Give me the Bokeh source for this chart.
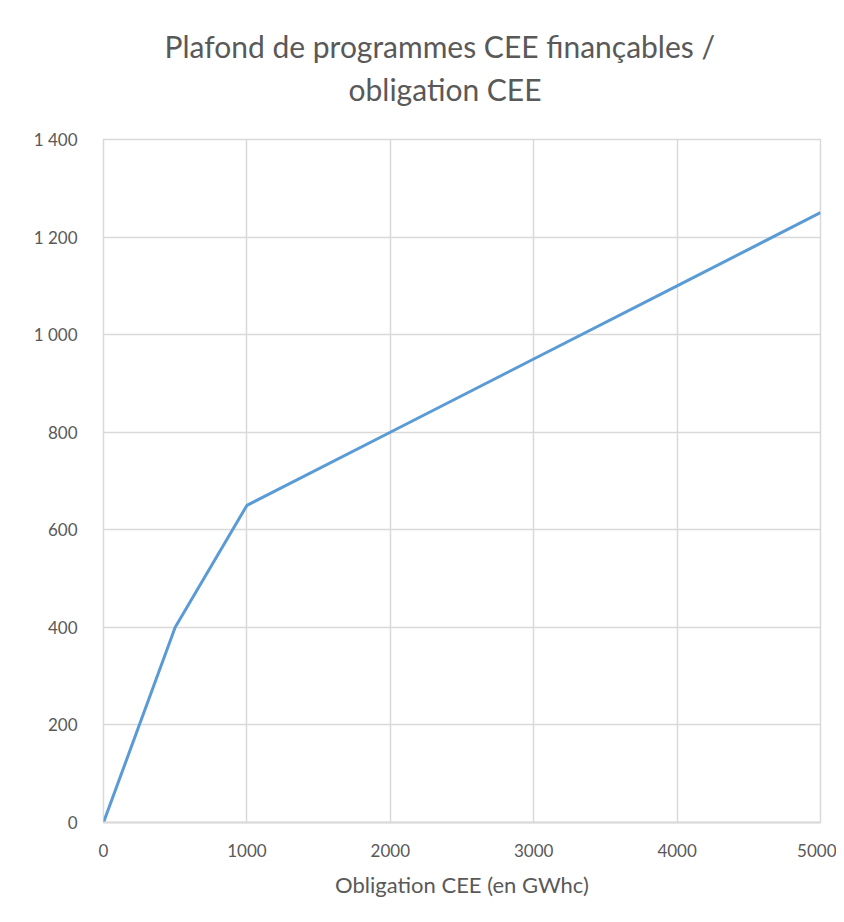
from bokeh.plotting import figure
from bokeh.models import Range1d, FixedTicker, Title
from bokeh.embed import file_html
from bokeh.resources import INLINE

# Data
obligation = [0, 500, 1000, 2000, 3000, 4000, 5000]
plafond = [0, 400, 650, 800, 950, 1100, 1250]
x_ticks = [0, 1000, 2000, 3000, 4000, 5000]
y_ticks = [0, 200, 400, 600, 800, 1000, 1200, 1400]
y_tick_labels = ["0", "200", "400", "600", "800", "1 000", "1 200", "1 400"]
title_lines = ["Plafond de programmes CEE finançables /", "obligation CEE"]

FONT = "Lato"
GREY = "#595959"
GRID = "#d9d9d9"

p = figure(width=836, height=914, output_backend="svg", toolbar_location=None,
           x_range=Range1d(0, 5000), y_range=Range1d(0, 1400),
           min_border_left=103, min_border_right=16, min_border_top=139, min_border_bottom=92)

# first title line (outermost)
p.title.text = title_lines[0]
p.title.align = "left"
p.title.offset = 61
p.title.standoff = 4
p.title.text_font = FONT
p.title.text_font_size = "30px"
p.title.text_font_style = "normal"
p.title.text_color = GREY

# spacer between the plot frame and the second title line
p.add_layout(Title(text=" ", text_font_size="10px", standoff=17), "above")
# second title line
p.add_layout(Title(text=title_lines[1], align="left", offset=245, standoff=6,
                   text_font=FONT, text_font_size="30px", text_font_style="normal",
                   text_color=GREY), "above")

p.line(obligation, plafond, line_color="#5B9BD5", line_width=3)

p.outline_line_color = GRID
p.outline_line_width = 1.5
p.background_fill_color = "white"
p.border_fill_color = "white"

p.xaxis.ticker = FixedTicker(ticks=x_ticks)
p.yaxis.ticker = FixedTicker(ticks=y_ticks)
p.yaxis.major_label_overrides = {t: l for t, l in zip(y_ticks, y_tick_labels)}

for ax in (p.xaxis, p.yaxis):
    ax.major_tick_line_color = None
    ax.minor_tick_line_color = None
    ax.major_label_text_font = FONT
    ax.major_label_text_font_size = "17px"
    ax.major_label_text_color = GREY
p.xaxis.major_label_standoff = 15
p.yaxis.major_label_standoff = 20
p.xaxis.axis_line_color = GRID
p.xaxis.axis_line_width = 2
p.yaxis.axis_line_color = None

p.xaxis.axis_label = "Obligation CEE (en GWhc)"
p.xaxis.axis_label_text_font = FONT
p.xaxis.axis_label_text_font_size = "22px"
p.xaxis.axis_label_text_font_style = "normal"
p.xaxis.axis_label_text_color = GREY
p.xaxis.axis_label_standoff = 11

p.grid.grid_line_color = GRID
p.grid.grid_line_width = 1.5

open("out.html", "w").write(file_html(p, INLINE))
